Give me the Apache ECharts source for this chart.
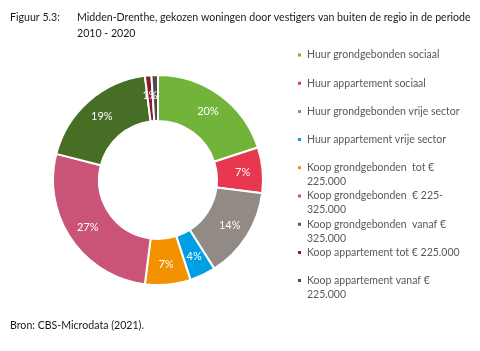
<!DOCTYPE html>
<html>
<head>
<meta charset="utf-8">
<script src="https://cdn.jsdelivr.net/npm/echarts@6/dist/echarts.min.js"></script>
<style>
  html, body { margin: 0; padding: 0; background: #fff; }
  #chart { width: 480px; height: 351px; }
</style>
</head>
<body>
<div id="chart"></div>
<script>
// woningtypes (legend order = slice order, clockwise from the top)
var categories = [
    'Huur grondgebonden sociaal',
    'Huur appartement sociaal',
    'Huur grondgebonden vrije sector',
    'Huur appartement vrije sector',
    'Koop grondgebonden  tot €\n225.000',
    'Koop grondgebonden  € 225-\n325.000',
    'Koop grondgebonden  vanaf €\n325.000',
    'Koop appartement tot € 225.000',
    'Koop appartement vanaf €\n225.000'
];
// aandeel in procenten
var shares = [20, 7, 14, 4, 7, 27, 19, 1, 1];

var chart = echarts.init(document.getElementById('chart'));

var titleFont = { fontFamily: 'Lato', fontSize: 10.6, fontWeight: 'normal', color: '#1a1a1a', lineHeight: 16 };

var option = {
    backgroundColor: '#fff',
    animation: false,
    color: ['#72b43a', '#e8384f', '#918a85', '#009fe3', '#f39200',
            '#c95477', '#466f25', '#8b1a2b', '#4f4b48'],
    title: [
        { text: 'Figuur 5.3:', left: 10, top: 10, padding: 0, textStyle: titleFont },
        {
            text: 'Midden-Drenthe, gekozen woningen door vestigers van buiten de regio in de periode\n2010 - 2020',
            left: 77, top: 10, padding: 0, textStyle: titleFont
        },
        { text: 'Bron: CBS-Microdata (2021).', left: 10, top: 318, padding: 0, textStyle: titleFont }
    ],
    legend: {
        orient: 'vertical',
        left: 296,
        top: 48,
        padding: 0,
        itemGap: 0.2,
        itemWidth: 5,
        itemHeight: 19,
        // small square at the top of the icon box, so it sits on the first text line
        icon: 'path://M0,0h5v5h-5z M0,18.99h0.01v0.01h-0.01z',
        selectedMode: false,
        formatter: function (name) {
            return name.indexOf('\n') >= 0 ? name : name + '\n ';
        },
        textStyle: {
            fontFamily: 'Lato',
            fontSize: 10.5,
            color: '#595959',
            lineHeight: 14
        }
    },
    series: [
        {
            type: 'pie',
            center: [158, 180],
            radius: [59, 105],
            startAngle: 90,
            clockwise: true,
            avoidLabelOverlap: false,
            itemStyle: { borderColor: '#fff', borderWidth: 2 },
            label: {
                position: 'inside',
                formatter: '{c}%',
                color: '#fff',
                fontFamily: 'Lato',
                fontSize: 11
            },
            labelLine: { show: false },
            emphasis: { disabled: true },
            data: categories.map(function (name, i) {
                return { name: name, value: shares[i] };
            })
        }
    ]
};

chart.setOption(option);
</script>
</body>
</html>
